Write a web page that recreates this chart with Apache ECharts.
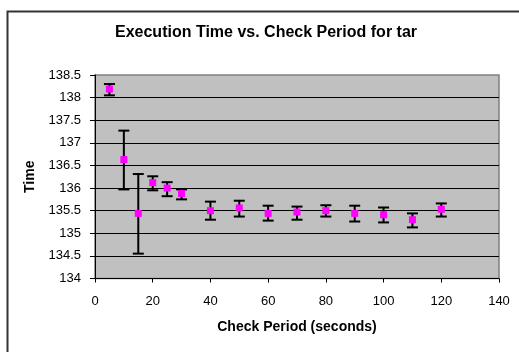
<!DOCTYPE html>
<html>
<head>
<meta charset="utf-8">
<script src="https://cdn.jsdelivr.net/npm/echarts@6/dist/echarts.min.js"></script>
<style>html,body{margin:0;padding:0;background:#fff}#c{width:519px;height:352px}</style>
</head>
<body>
<div id="c"></div>
<script>
var checkPeriods = [5, 10, 15, 20, 25, 30, 40, 50, 60, 70, 80, 90, 100, 110, 120];
var meanTimes   = [138.19, 136.63, 135.44, 136.12, 136.00, 135.88, 135.50, 135.56, 135.44, 135.47, 135.50, 135.44, 135.41, 135.30, 135.53];
var upperTimes  = [138.30, 137.27, 136.31, 136.26, 136.13, 135.97, 135.70, 135.72, 135.61, 135.59, 135.62, 135.61, 135.57, 135.44, 135.66];
var lowerTimes  = [138.05, 135.97, 134.55, 135.95, 135.82, 135.75, 135.30, 135.37, 135.28, 135.30, 135.37, 135.26, 135.24, 135.13, 135.37];

var FONT = 'Liberation Sans, Arial, sans-serif';
var chart = echarts.init(document.getElementById('c'), null, {renderer: 'canvas'});

var scatterData = checkPeriods.map(function (x, i) { return [x, meanTimes[i]]; });
var errData = checkPeriods.map(function (x, i) { return [x, lowerTimes[i], upperTimes[i]]; });

chart.setOption({
  animation: false,
  backgroundColor: '#ffffff',
  title: {
    text: 'Execution Time vs. Check Period for tar',
    left: 261, top: 20, textAlign: 'center',
    textStyle: {fontFamily: FONT, fontSize: 16, fontWeight: 'bold', color: '#000'}
  },
  graphic: [{
    type: 'rect', left: 5, top: 9, z: -1,
    shape: {width: 700, height: 500},
    style: {fill: 'none', stroke: '#333', lineWidth: 2}
  }],
  grid: {
    left: 95, top: 75, right: 20, bottom: 73.5,
    show: true, backgroundColor: '#C0C0C0', borderColor: '#808080', borderWidth: 1.5
  },
  xAxis: {
    type: 'value', min: 0, max: 140, interval: 20,
    name: 'Check Period (seconds)', nameLocation: 'middle', nameGap: 42,
    nameTextStyle: {fontFamily: FONT, fontSize: 14, fontWeight: 'bold', color: '#000'},
    axisLine: {show: true, lineStyle: {color: '#000', width: 1}},
    axisTick: {show: true, inside: false, length: 4, lineStyle: {color: '#000'}},
    axisLabel: {fontFamily: FONT, fontSize: 13, color: '#000', margin: 16},
    splitLine: {show: false}
  },
  yAxis: {
    type: 'value', min: 134, max: 138.5, interval: 0.5,
    name: 'Time', nameLocation: 'middle', nameGap: 56, nameRotate: 90,
    nameTextStyle: {fontFamily: FONT, fontSize: 14, fontWeight: 'bold', color: '#000'},
    axisLine: {show: true, lineStyle: {color: '#000', width: 1}},
    axisTick: {show: true, inside: false, length: 5, lineStyle: {color: '#000'}},
    axisLabel: {fontFamily: FONT, fontSize: 13, color: '#000', margin: 14},
    splitLine: {show: true, showMinLine: false, showMaxLine: false, lineStyle: {color: '#000', width: 1}}
  },
  series: [{
    type: 'custom',
    data: errData,
    z: 2,
    renderItem: function (params, api) {
      var x = api.value(0);
      var lo = api.coord([x, api.value(1)]);
      var hi = api.coord([x, api.value(2)]);
      var hw = 5.5;
      var st = {stroke: '#000', lineWidth: 2};
      return {
        type: 'group',
        children: [
          {type: 'line', shape: {x1: hi[0], y1: hi[1], x2: lo[0], y2: lo[1]}, style: st},
          {type: 'line', shape: {x1: hi[0] - hw, y1: hi[1], x2: hi[0] + hw, y2: hi[1]}, style: st},
          {type: 'line', shape: {x1: lo[0] - hw, y1: lo[1], x2: lo[0] + hw, y2: lo[1]}, style: st}
        ]
      };
    }
  }, {
    type: 'scatter',
    data: scatterData,
    symbol: 'rect',
    symbolSize: 7,
    z: 3,
    itemStyle: {color: '#FF00FF', opacity: 1}
  }]
});
</script>
</body>
</html>
